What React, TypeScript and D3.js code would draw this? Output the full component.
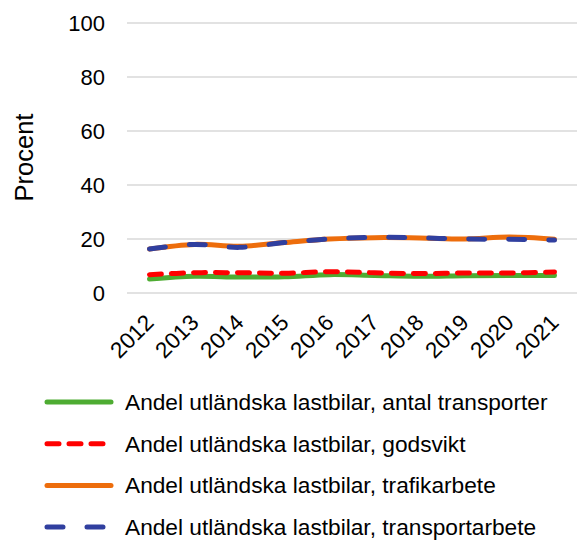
import * as d3 from "d3";
import { useEffect, useRef } from "react";

const years = ["2012", "2013", "2014", "2015", "2016", "2017", "2018", "2019", "2020", "2021"];
const antalTransporter = [5.2, 6.2, 5.9, 6.0, 6.8, 6.5, 6.2, 6.4, 6.5, 6.5];
const godsvikt = [6.8, 7.5, 7.5, 7.3, 7.9, 7.5, 7.2, 7.4, 7.4, 7.8];
const trafikarbete = [16.3, 18.0, 17.3, 18.7, 20.0, 20.5, 20.4, 20.0, 20.7, 19.9];
const transportarbete = [16.3, 18.0, 16.9, 18.7, 20.0, 20.6, 20.4, 20.0, 19.9, 19.6];
const yTicks = [0, 20, 40, 60, 80, 100];

const series = [
  { name: "Andel utländska lastbilar, antal transporter", values: antalTransporter, color: "#4eac32", dash: "", legEnd: 111 },
  { name: "Andel utländska lastbilar, trafikarbete", values: trafikarbete, color: "#ed6d0c", dash: "", legEnd: 111 },
  { name: "Andel utländska lastbilar, godsvikt", values: godsvikt, color: "#ff0000", dash: "12,10", legEnd: 106 },
  { name: "Andel utländska lastbilar, transportarbete", values: transportarbete, color: "#303f9f", dash: "16,24", legEnd: 106 },
];
// legend order differs from draw order
const legendOrder = [0, 2, 1, 3];

const W = 579;
const H = 540;
const FONT = "'Liberation Sans', Arial, sans-serif";

export default function App() {
  const svgRef = useRef<SVGSVGElement>(null);

  useEffect(() => {
    if (!svgRef.current) return;
    const svg = d3.select(svgRef.current);
    svg.selectAll("*").remove();

    const x = d3.scaleBand<string>().domain(years).range([127, 577]);
    const y = d3.scaleLinear().domain([0, 100]).range([293, 23]);

    // gridlines
    svg
      .append("g")
      .selectAll("line")
      .data(yTicks)
      .join("line")
      .attr("x1", 127)
      .attr("x2", 577)
      .attr("y1", (d) => y(d))
      .attr("y2", (d) => y(d))
      .attr("stroke", "#d9d9d9")
      .attr("stroke-width", 1.3);

    // y tick labels
    svg
      .append("g")
      .selectAll("text")
      .data(yTicks)
      .join("text")
      .attr("x", 105)
      .attr("y", (d) => y(d))
      .attr("dy", "0.35em")
      .attr("text-anchor", "end")
      .attr("font-family", FONT)
      .attr("font-size", 22)
      .attr("fill", "#000")
      .text((d) => d);

    svg
      .append("text")
      .attr("transform", `translate(33,157.5) rotate(-90)`)
      .attr("text-anchor", "middle")
      .attr("font-family", FONT)
      .attr("font-size", 25.5)
      .text("Procent");

    // x tick labels
    svg
      .append("g")
      .selectAll("text")
      .data(years)
      .join("text")
      .attr("transform", (d) => `translate(${(x(d) ?? 0) + x.bandwidth() / 2 + 5.5},324) rotate(-45)`)
      .attr("text-anchor", "end")
      .attr("font-family", FONT)
      .attr("font-size", 22.5)
      .text((d) => d);

    const line = d3
      .line<number>()
      .x((_, i) => (x(years[i]) ?? 0) + x.bandwidth() / 2)
      .y((d) => y(d))
      .curve(d3.curveCatmullRom.alpha(0.5));

    svg
      .append("g")
      .selectAll("path")
      .data(series)
      .join("path")
      .attr("d", (s) => line(s.values))
      .attr("fill", "none")
      .attr("stroke", (s) => s.color)
      .attr("stroke-width", 5)
      .attr("stroke-linecap", "round")
      .attr("stroke-dasharray", (s) => s.dash || null);

    // legend
    const leg = svg
      .append("g")
      .selectAll("g")
      .data(legendOrder.map((i) => series[i]))
      .join("g")
      .attr("transform", (_, i) => `translate(0,${402 + i * 41.7})`);

    leg
      .append("line")
      .attr("x1", 47)
      .attr("x2", (s) => s.legEnd)
      .attr("stroke", (s) => s.color)
      .attr("stroke-width", 5)
      .attr("stroke-linecap", "round")
      .attr("stroke-dasharray", (s) => s.dash || null);

    leg
      .append("text")
      .attr("x", 125)
      .attr("dy", "0.35em")
      .attr("font-family", FONT)
      .attr("font-size", 22.7)
      .text((s) => s.name);
  }, []);

  return (
    <svg
      ref={svgRef}
      width={W}
      height={H}
      style={{ position: "absolute", left: 0, top: 0, background: "#fff" }}
    />
  );
}
